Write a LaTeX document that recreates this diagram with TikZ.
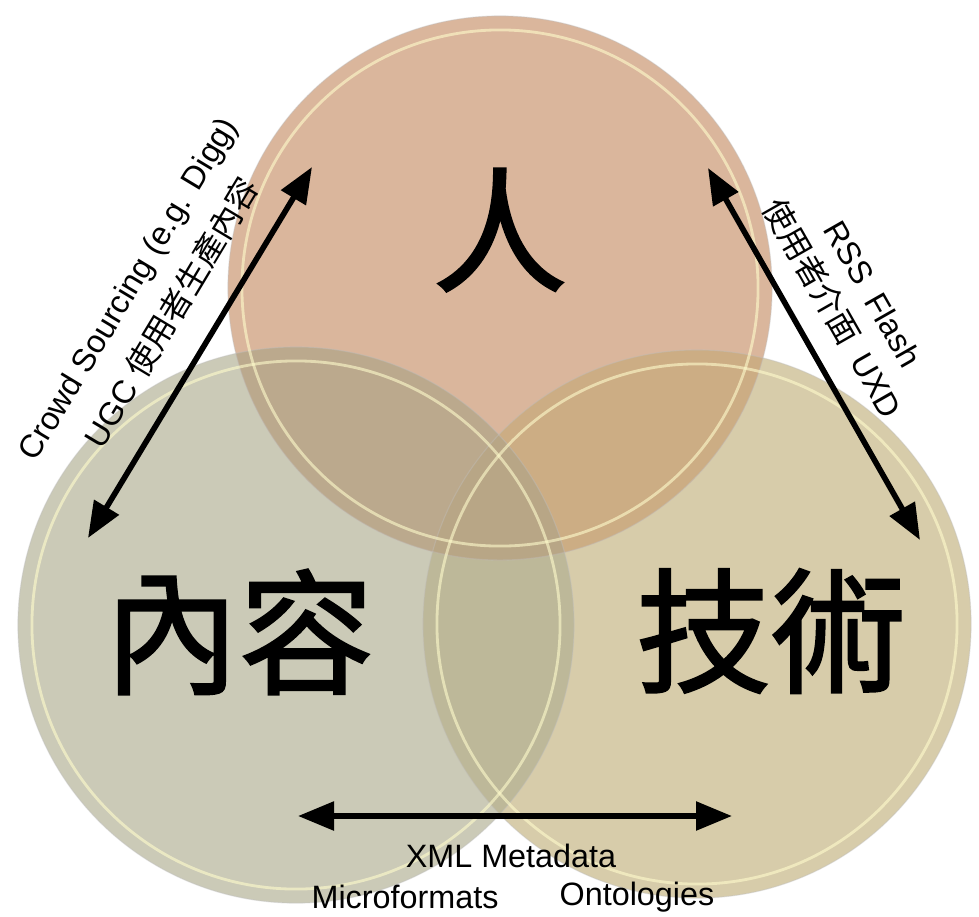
\documentclass[tikz,border=0pt]{standalone}
\usepackage{fontspec}
\setmainfont{Liberation Sans}
\newfontfamily\cjk{Noto Sans CJK TC}
\newfontfamily\cjkheavy{Noto Sans CJK TC}[FakeBold=1.6]
\usetikzlibrary{arrows.meta}

\definecolor{renC}{HTML}{DAB69C}
\definecolor{neiC}{HTML}{CBCAB7}
\definecolor{jiC}{HTML}{D7CCAA}
\definecolor{renNeiC}{HTML}{BBA98D}
\definecolor{renJiC}{HTML}{CCAD84}
\definecolor{neiJiC}{HTML}{BDB899}
\definecolor{allC}{HTML}{B8A686}

\begin{document}
\begin{tikzpicture}[
    % GLOBAL CFG
    x=0.025cm, y=-0.025cm,
    >={Triangle[length=0.9cm, width=0.7cm]},
    % Styles
    rim/.style={% light edge of each disc
        draw=white!80!yellow,
        line width=2pt,
        opacity=.6,
        },
    edge/.style={% soft outer line of each disc
        draw=black!25,
        line width=.8pt,
        opacity=.4,
        },
    word/.style={% big words in the discs
        font=\cjkheavy\fontsize{96}{96}\selectfont,
        },
    note/.style={% labels beside the arrows
        font=\fontsize{23}{33}\selectfont,
        inner sep=0pt,
        },
    link/.style={% double arrows
        <->,
        line width=4pt,
        },
    ]
    \useasboundingbox (0,0) rectangle (979,916);

    % Centres of the discs
    \coordinate (ren) at (500,288);
    \coordinate (nei) at (296,625);
    \coordinate (ji) at (697,624);

    % Discs
    \fill [neiC] (nei) circle [radius=6.95cm];
    \fill [jiC] (ji) circle [radius=6.85cm];
    \fill [renC] (ren) circle [radius=6.8cm];

    % Overlaps
    \begin{scope}
        \clip (nei) circle [radius=6.95cm];
        \fill [neiJiC] (ji) circle [radius=6.85cm];
    \end{scope}
    \begin{scope}
        \clip (ren) circle [radius=6.8cm];
        \fill [renNeiC] (nei) circle [radius=6.95cm];
        \fill [renJiC] (ji) circle [radius=6.85cm];
        \clip (nei) circle [radius=6.95cm];
        \fill [allC] (ji) circle [radius=6.85cm];
    \end{scope}

    % Edges
    \draw [edge] (nei) circle [radius=6.95cm];
    \draw [edge] (ji) circle [radius=6.85cm];
    \draw [edge] (ren) circle [radius=6.8cm];
    \draw [rim] (nei) circle [radius=6.6cm];
    \draw [rim] (ji) circle [radius=6.5cm];
    \draw [rim] (ren) circle [radius=6.45cm];

    % Words
    \node [word] (renW) at (500,230) {人};
    \node [word] (neiW) at (239,632) {內容};
    \node [word] (jiW) at (771,631) {技術};

    % Arrow ends
    \coordinate (cs1) at (88,538);
    \coordinate (cs2) at (312,167);
    \coordinate (rss1) at (708,168);
    \coordinate (rss2) at (920,540);
    \coordinate (xml1) at (298,816);
    \coordinate (xml2) at (732,816);

    % Arrows
    \draw [link] (cs1) -- (cs2);
    \draw [link] (rss1) -- (rss2);
    \draw [link] (xml1) -- (xml2);

    % Labels
    \node [note, rotate=59] (crowd) at (130,290) {Crowd Sourcing (e.g. Digg)};
    \node [note, rotate=59] (ugc) at (171,312) {UGC {\cjk 使用者生產內容}};
    \node [note, rotate=-60.3] (rssT) at (873,294) {RSS\enspace Flash};
    \node [note, rotate=-60.3] (uxd) at (833,308) {{\cjk 使用者介面}\enspace UXD};
    \node [note] (xmlT) at (511,856) {XML Metadata};
    \node [note] (micro) at (405,897) {Microformats};
    \node [note] (onto) at (637,897) {Ontologies};
\end{tikzpicture}
\end{document}
